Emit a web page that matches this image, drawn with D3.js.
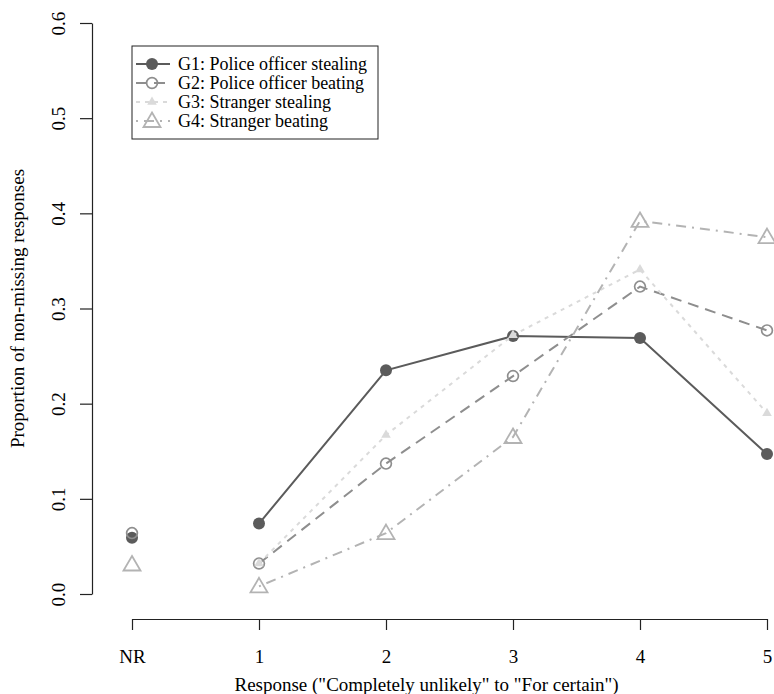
<!DOCTYPE html>
<html>
<head>
<meta charset="utf-8">
<script src="https://cdn.jsdelivr.net/npm/d3@7"></script>
<style>
  body { margin: 0; background: #fff; }
  text { font-family: "Liberation Serif", "DejaVu Serif", serif; fill: #000; }
</style>
</head>
<body>
<div id="viz"></div>
<script>
// categories on the x axis (NR = no response)
let categories = ['NR', '1', '2', '3', '4', '5'];
let yTicks = [0, 0.1, 0.2, 0.3, 0.4, 0.5, 0.6];

// proportions per group, null = not shown
let g1 = [0.059, 0.074, 0.235, 0.271, 0.269, 0.147];
let g2 = [0.064, 0.032, 0.137, 0.229, 0.323, 0.277];
let g3 = [null, 0.032, 0.167, 0.272, 0.341, 0.190];
let g4 = [0.031, 0.008, 0.064, 0.165, 0.392, 0.375];

let groupNames = ['G1: Police officer stealing', 'G2: Police officer beating',
                  'G3: Stranger stealing', 'G4: Stranger beating'];

let series = [
  {name: groupNames[0], values: g1, color: '#5b5b5b', dash: null, shape: 'dot'},
  {name: groupNames[1], values: g2, color: '#8e8e8e', dash: '11,7', shape: 'circle'},
  {name: groupNames[2], values: g3, color: '#dadada', dash: '4,5', shape: 'tri-filled'},
  {name: groupNames[3], values: g4, color: '#b3b3b3', dash: '2,6,10,6', shape: 'tri'}
];

let width = 774, height = 694;
let fontSize = '19px';

let svg = d3.select('#viz').append('svg')
  .attr('width', width)
  .attr('height', height);

let x = d3.scaleLinear().domain([0, 5]).range([132, 767]);
let y = d3.scaleLinear().domain([0, 0.6]).range([594, 23]);

// y axis, labels parallel to the axis like base R
let yAxis = svg.append('g')
  .attr('transform', 'translate(92,0)')
  .call(d3.axisLeft(y).tickValues(yTicks).tickFormat(d3.format('.1f')).tickSize(12).tickSizeOuter(0));
yAxis.selectAll('text')
  .attr('transform', 'rotate(-90)')
  .attr('x', 0)
  .attr('y', -34)
  .attr('dy', '0.35em')
  .attr('text-anchor', 'middle')
  .style('font-size', fontSize);

// x axis sits below the plot region
let xAxis = svg.append('g')
  .attr('transform', 'translate(0,619)')
  .call(d3.axisBottom(x).tickValues(d3.range(categories.length))
    .tickFormat(i => categories[i]).tickSize(11).tickSizeOuter(0));
xAxis.selectAll('text')
  .attr('y', 37)
  .attr('dy', '0.35em')
  .style('font-size', fontSize);

svg.selectAll('.domain, .tick line').attr('stroke', '#222').attr('stroke-width', 1.2);

// axis titles
svg.append('text')
  .attr('x', (x(0) + x(5)) / 2 - 23)
  .attr('y', 684)
  .attr('dy', '0.35em')
  .attr('text-anchor', 'middle')
  .style('font-size', fontSize)
  .text('Response ("Completely unlikely" to "For certain")');

svg.append('text')
  .attr('transform', `translate(17,${(y(0) + y(0.6)) / 2}) rotate(-90)`)
  .attr('dy', '0.35em')
  .attr('text-anchor', 'middle')
  .style('font-size', fontSize)
  .text('Proportion of non-missing responses');

function drawMarker(sel, shape, color) {
  if (shape === 'dot') {
    sel.append('circle').attr('r', 6).attr('fill', color);
  } else if (shape === 'circle') {
    sel.append('circle').attr('r', 5.4).attr('fill', 'none').attr('stroke', color).attr('stroke-width', 1.7);
  } else if (shape === 'tri-filled') {
    sel.append('path').attr('d', d3.symbol(d3.symbolTriangle, 40)()).attr('fill', color);
  } else {
    sel.append('path').attr('d', 'M0,-8.5L8.5,6L-8.5,6Z').attr('fill', 'none')
      .attr('stroke', color).attr('stroke-width', 1.8);
  }
}

let line = d3.line()
  .defined(d => d.v !== null)
  .x(d => x(d.i))
  .y(d => y(d.v));

series.forEach(s => {
  let pts = s.values.map((v, i) => ({i: i, v: v}));
  // the lines only connect responses 1..5, NR is a lone point
  svg.append('path')
    .datum(pts.slice(1))
    .attr('d', line)
    .attr('fill', 'none')
    .attr('stroke', s.color)
    .attr('stroke-width', 2)
    .attr('stroke-dasharray', s.dash);

  svg.selectAll(null)
    .data(pts.filter(d => d.v !== null))
    .join('g')
    .attr('transform', d => `translate(${x(d.i)},${y(d.v)})`)
    .each(function() { drawMarker(d3.select(this), s.shape, s.color); });
});

// legend
let legend = svg.append('g').attr('transform', 'translate(132,46)');
legend.append('rect')
  .attr('width', 246).attr('height', 93)
  .attr('fill', '#fff').attr('stroke', '#222').attr('stroke-width', 1);

series.forEach((s, k) => {
  let row = legend.append('g').attr('transform', `translate(0,${18 + k * 19})`);
  row.append('line')
    .attr('x1', 4).attr('x2', 38)
    .attr('stroke', s.color).attr('stroke-width', 2)
    .attr('stroke-dasharray', s.dash);
  let m = row.append('g').attr('transform', 'translate(20,0)');
  drawMarker(m, s.shape, s.color);
  row.append('text')
    .attr('x', 46).attr('dy', '0.35em')
    .style('font-size', '18px')
    .text(s.name);
});
</script>
</body>
</html>
